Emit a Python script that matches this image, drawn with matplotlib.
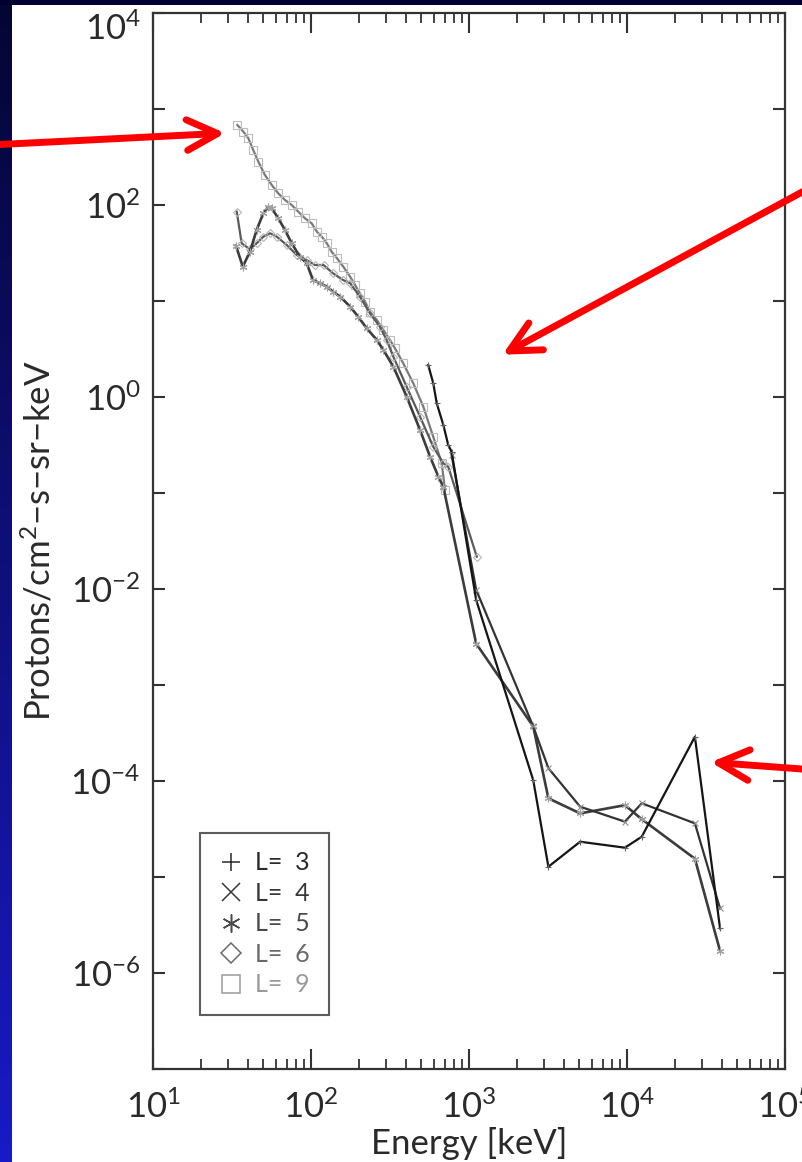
import numpy as np
import matplotlib
matplotlib.use("Agg")
import matplotlib.pyplot as plt
from matplotlib.lines import Line2D
from matplotlib.patches import FancyArrowPatch
from matplotlib.transforms import ScaledTranslation, IdentityTransform
from matplotlib import font_manager

# ---------------------------------------------------------------- data
# L = 9, low-energy channels
E9 = [34.2, 37.3, 40.1, 43.1, 46.4, 51.1, 56.4, 62.1, 68.4, 75.5, 83.1, 91.6,
      101, 109, 117, 126, 135, 146, 160, 177, 190, 204, 220, 236, 261, 287,
      316, 340, 384, 444, 514, 594, 672, 705]
F9 = [681, 581, 496, 374, 283, 205, 162, 132, 113, 100, 85.1, 72.6,
      64.4, 52.7, 46.8, 39.9, 32.6, 27.9, 22.8, 17.9, 14.7, 12.0, 9.84, 7.74,
      6.34, 4.99, 3.93, 3.21, 2.24, 1.39, 0.792, 0.385, 0.204, 0.107]

# L = 6
E6 = [33.9, 36.4, 41.1, 45.3, 49.9, 55.1, 60.7, 70.2, 81.1, 93.9, 106, 120,
      138, 160, 177, 204, 236, 273, 301, 332, 403, 490, 594, 688, 739, 1120]
F6 = [85.1, 39.9, 34.6, 39.9, 46.8, 50.7, 46.8, 38.3, 30.2, 26.7, 23.7, 23.7,
      19.4, 16.5, 15.3, 11.1, 7.45, 5.40, 3.93, 2.63, 1.28, 0.623, 0.303,
      0.204, 0.188, 0.0217]

# L = 5
E5 = [33.5, 37.0, 41.1, 45.3, 49.9, 53.7, 56.4, 62.1, 68.4, 75.5, 85.1, 93.9,
      103, 114, 126, 138, 153, 177, 199, 225, 261, 287, 332, 403, 490, 567,
      640, 688, 1110, 2550, 3180, 5050, 9700, 12400, 26900, 38800]
F5 = [37.7, 22.8, 32.7, 55.0, 82.0, 95.9, 92.4, 72.6, 55.0, 39.9, 28.9, 24.7,
      16.5, 15.3, 14.1, 12.5, 11.1, 8.73, 6.86, 5.20, 3.93, 3.09, 2.07, 1.01,
      0.453, 0.239, 0.148, 0.116, 2.7e-3, 3.7e-4, 6.6e-5, 4.6e-5, 5.6e-5,
      4.0e-5, 1.55e-5, 1.7e-6]

# L = 4
E4 = [776, 1110, 2550, 3180, 5050, 9700, 12400, 26900, 38800]
F4 = [0.25, 9.8e-3, 3.7e-4, 1.36e-4, 5.4e-5, 3.77e-5, 5.86e-5, 3.62e-5, 4.7e-6]

# L = 3
E3 = [552, 594, 625, 688, 739, 776, 1110, 2550, 3180, 5050, 9700, 12400,
      26900, 38800]
F3 = [2.15, 1.39, 0.859, 0.511, 0.316, 0.269, 7.7e-3, 1.02e-4, 1.28e-5,
      2.33e-5, 2.02e-5, 2.63e-5, 2.89e-4, 2.92e-6]

shells = ["3", "4", "5", "6", "9"]

# ---------------------------------------------------------------- style
names = {f.name for f in font_manager.fontManager.ttflist}
FAM = "Lato" if "Lato" in names else "DejaVu Sans"
plt.rcParams["font.family"] = [FAM, "DejaVu Sans"]
plt.rcParams["mathtext.fontset"] = "custom"
plt.rcParams["mathtext.rm"] = FAM
plt.rcParams["mathtext.it"] = FAM
plt.rcParams["mathtext.bf"] = FAM
plt.rcParams["mathtext.default"] = "rm"

TXT = "#2a2a2a"
W, H = 802, 1162
fig = plt.figure(figsize=(W / 100, H / 100), dpi=100, facecolor="white")

# dark frame strips (top band and blue gradient on the left)
bg_left = fig.add_axes([0, 0, 12 / W, 1])
grad = np.linspace(0, 1, 256)[:, None]
top_c = np.array([0.02, 0.02, 0.20])
bot_c = np.array([0.10, 0.10, 0.78])
img = top_c[None, None, :] * (1 - grad[:, :, None]) + bot_c[None, None, :] * grad[:, :, None]
bg_left.imshow(img, aspect="auto", extent=[0, 1, 0, 1], origin="upper")
bg_left.set_axis_off()
bg_top = fig.add_axes([0, 1 - 5 / H, 1, 5 / H])
bg_top.set_facecolor("#000030")
bg_top.set_xticks([]); bg_top.set_yticks([])
for s in bg_top.spines.values():
    s.set_visible(False)

# main axes
x0, x1, y0, y1 = 153, 785, 13, 1069
ax = fig.add_axes([x0 / W, 1 - y1 / H, (x1 - x0) / W, (y1 - y0) / H])
ax.set_xscale("log")
ax.set_yscale("log")
ax.set_xlim(10, 1e5)
ax.set_ylim(1e-7, 1e4)

spine_c = "#333333"
for s in ax.spines.values():
    s.set_color(spine_c)
    s.set_linewidth(1.6)

ax.xaxis.set_ticks_position("both")
ax.yaxis.set_ticks_position("both")
ax.set_xticks([1e1, 1e2, 1e3, 1e4, 1e5])
ax.set_xticklabels([r"$10^{1}$", r"$10^{2}$", r"$10^{3}$", r"$10^{4}$", r"$10^{5}$"])
yt = [10.0 ** k for k in range(-7, 5)]
ax.set_yticks(yt)
ax.set_yticklabels([(r"$10^{%d}$" % k).replace("-", "{-}") if k % 2 == 0 else ""
                    for k in range(-7, 5)])
ax.set_yticks([], minor=True)
ax.xaxis.set_minor_locator(matplotlib.ticker.LogLocator(base=10, subs=np.arange(2, 10)))
ax.xaxis.set_minor_formatter(matplotlib.ticker.NullFormatter())
ax.tick_params(axis="x", which="major", direction="in", length=14.5, width=1.5,
               color=spine_c, labelsize=25, pad=15, labelcolor=TXT)
ax.tick_params(axis="x", which="minor", direction="in", length=7.2, width=1.3,
               color=spine_c)
ax.tick_params(axis="y", which="major", direction="in", length=8.5, width=1.5,
               color=spine_c, labelsize=25, pad=9, labelcolor=TXT)

# the topmost y label sits a little lower so it stays inside the canvas
top_lab = ax.get_yticklabels()[-1]
top_lab.set_transform(top_lab.get_transform()
                      + ScaledTranslation(0, -9 / 72, fig.dpi_scale_trans))

ax.set_xlabel("Energy [keV]", fontsize=25, color=TXT, labelpad=2)
ax.set_ylabel(r"Protons/cm$^2$$-$s$-$sr$-$keV", fontsize=25, color=TXT,
              labelpad=10)

# ---------------------------------------------------------------- curves
ax.plot(E9, F9, color="#7a7a7a", lw=1.6, marker="s", ms=5.2, mfc="none",
        mec="#bdbdbd", mew=0.8, zorder=3)
ax.plot(E6, F6, color="#5a5a5a", lw=1.6, marker="D", ms=4.2, mfc="none",
        mec="#b5b5b5", mew=0.8, zorder=4)
ax.plot(E5, F5, color="#3c3c3c", lw=1.9, marker=(6, 2, 0), ms=5.5,
        mec="#a0a0a0", mew=0.8, zorder=5)
ax.plot(E4, F4, color="#333333", lw=1.6, marker="x", ms=4.0, mec="#909090",
        mew=0.8, zorder=5)
ax.plot(E3, F3, color="#151515", lw=1.6, marker="+", ms=5.0, mec="#606060",
        mew=0.8, zorder=6)

# legend
leg_cols = ["#2a2a2a", "#383838", "#4a4a4a", "#6a6a6a", "#9a9a9a"]
leg_marks = ["+", "x", (6, 2, 0), "D", "s"]
handles = [Line2D([], [], ls="none", marker=m, ms=(13 if m != "D" else 10.5),
                  mfc="none", mec=c, mew=1.1, color=c)
           for m, c in zip(leg_marks, leg_cols)]
labels = ["L=  " + s for s in shells]
leg = ax.legend(handles, labels, loc="lower left",
                bbox_to_anchor=((200 - x0) / (x1 - x0), (y1 - 1015) / (y1 - y0)),
                frameon=True, fancybox=False, fontsize=18, handlelength=1.0,
                handletextpad=0.45, labelspacing=0.3, borderpad=0.75,
                borderaxespad=0, edgecolor="#333333")
leg.get_frame().set_linewidth(1.5)
for t, c in zip(leg.get_texts(), leg_cols):
    t.set_color(c)

# red annotation arrows (figure pixel coordinates, y measured from top)
def arrow(tail, tip):
    p = FancyArrowPatch((tail[0], H - tail[1]), (tip[0], H - tip[1]),
                        arrowstyle="->,head_length=22,head_width=11",
                        color="#ff0000", lw=5, capstyle="round",
                        joinstyle="round", zorder=20)
    p.set_transform(IdentityTransform())
    fig.add_artist(p)

arrow((-10, 145), (228, 133))
arrow((815, 185), (500, 356))
arrow((815, 770), (708, 762))

fig.savefig("out.png", dpi=100, facecolor="white")
